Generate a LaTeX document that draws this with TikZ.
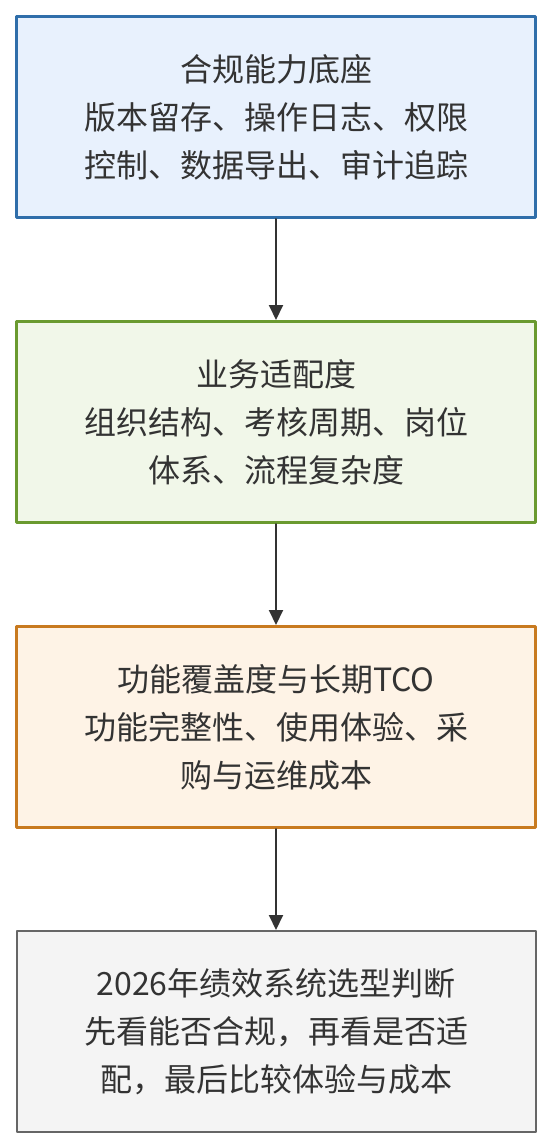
\documentclass[tikz,border=0pt]{standalone}
\usepackage{fontspec}
\usepackage{tikz}
\usetikzlibrary{positioning,arrows.meta}
\newfontfamily\cjk{Noto Sans CJK SC}

\definecolor{blueline}{HTML}{2F6EAA}
\definecolor{bluefill}{HTML}{E8F1FD}
\definecolor{greenline}{HTML}{6A9A2F}
\definecolor{greenfill}{HTML}{F1F7E9}
\definecolor{orangeline}{HTML}{C87A1F}
\definecolor{orangefill}{HTML}{FEF3E6}
\definecolor{grayline}{HTML}{666666}
\definecolor{grayfill}{HTML}{F4F4F4}
\definecolor{textgray}{HTML}{333333}

\tikzset{
  stage/.style={draw, line width=3pt, minimum width=519pt, minimum height=201pt,
    align=center, text=textgray, inner sep=0pt,
    font=\cjk\fontsize{32}{48}\selectfont},
  flow/.style={-{Triangle[length=15pt,width=14pt]}, line width=2pt, draw=textgray}
}

\begin{document}
\begin{tikzpicture}[line cap=round,line join=round,x=1pt,y=1pt]
      % \draw[help lines,step=50] (0,0) grid (552,-1148);
      \useasboundingbox (0,0) rectangle (552,-1148);

      \node[stage, draw=blueline, fill=bluefill] (compliance) at (276,-117)
        {合规能力底座\\版本留存、操作日志、权限\\控制、数据导出、审计追踪};

      \node[stage, draw=greenline, fill=greenfill, below=101pt of compliance] (fit)
        {业务适配度\\组织结构、考核周期、岗位\\体系、流程复杂度};

      \node[stage, draw=orangeline, fill=orangefill, below=101pt of fit] (function)
        {功能覆盖度与长期TCO\\功能完整性、使用体验、采\\购与运维成本};

      % decision
      \node[stage, draw=grayline, fill=grayfill, line width=2pt, below=101pt of function] (decision)
        {2026年绩效系统选型判断\\先看能否合规，再看是否适\\配，最后比较体验与成本};

      \draw[flow] (compliance) -- (fit);
      \draw[flow] (fit) -- (function);
      \draw[flow] (function) -- (decision);

\end{tikzpicture}
\end{document}
